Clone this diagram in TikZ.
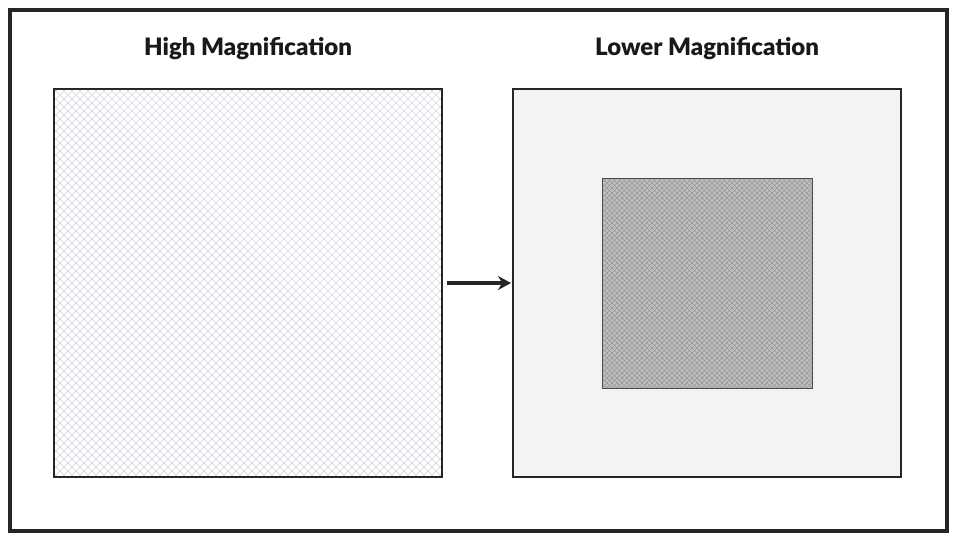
\documentclass[tikz,border=0pt]{standalone}
\usepackage{fontspec}
\setmainfont{Lato Black}
\usetikzlibrary{arrows.meta}
\definecolor{hatch}{HTML}{D5DBE2}
\definecolor{lightbg}{HTML}{F1F3F5}
\definecolor{innerbg}{HTML}{BEBEBE}
\begin{document}
\begin{tikzpicture}[x=1pt,y=-1pt,
  box/.style={draw=black!85,line width=2.4pt},
  title/.style={font=\fontsize{24}{26}\selectfont, text=black!90}]
\useasboundingbox (0,0) rectangle (957,542);
\draw[line width=3.5pt,draw=black!85] (10,10) rectangle (947,531);
\node[title] (t1) at (248,49) {High Magnification};
\node[title] (t2) at (707,49) {Lower Magnification};
\begin{scope}
\clip (54,89) rectangle (442,477);
\foreach \i in {-400,-392,...,400} {
  \draw[hatch,line width=0.7pt] (54+\i,89) -- ++(400,400);
  \draw[hatch,line width=0.7pt] (442-\i,89) -- ++(-400,400);
}
\end{scope}
\draw[box] (54,89) rectangle (442,477);
\coordinate (L) at (442,283);
\fill[lightbg] (513,89) rectangle (901,477);
\draw[box] (513,89) rectangle (901,477);
\coordinate (R) at (513,283);
\fill[innerbg] (602,178) rectangle (812,388);
\begin{scope}
\clip (602,178) rectangle (812,388);
\foreach \i in {-220,-215,...,220} {
  \draw[black!40,line width=0.4pt] (602+\i,178) -- ++(220,220);
  \draw[black!40,line width=0.4pt] (812-\i,178) -- ++(-220,220);
}
\end{scope}
\draw[draw=black!70,line width=0.8pt] (602,178) rectangle (812,388);
\draw[line width=3.5pt,draw=black!85,-{Stealth[length=13pt,width=14pt]}] ([xshift=5pt]L) -- ([xshift=-2pt]R);
\end{tikzpicture}
\end{document}
